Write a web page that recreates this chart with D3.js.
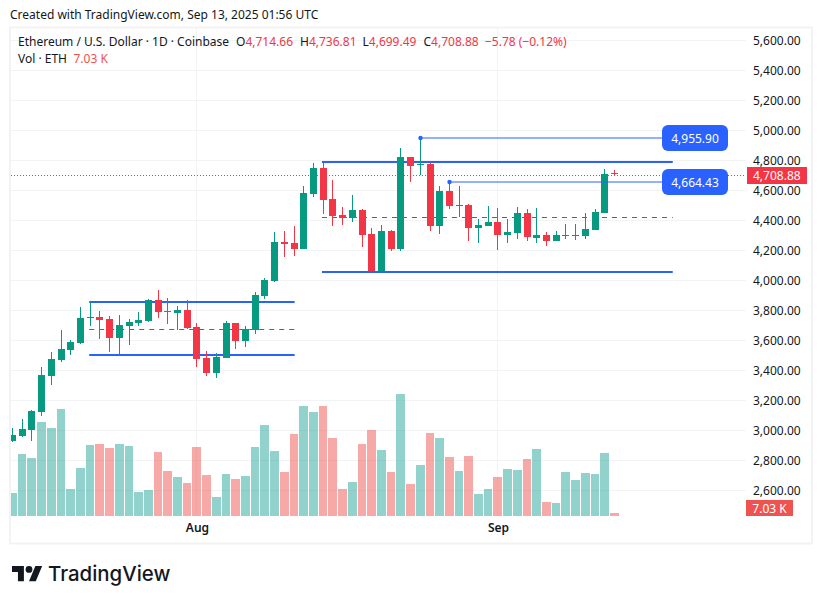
<!DOCTYPE html>
<html><head><meta charset="utf-8">
<script src="https://cdn.jsdelivr.net/npm/d3@7"></script>
<style>html,body{margin:0;padding:0;background:#fff}svg{display:block;font-family:"Noto Sans",sans-serif}</style>
</head><body><div id="chart"></div>
<script>
const openP =[2930,2963,3003,3123,3363,3470,3537,3583,3750,3757,3743,3617,3697,3717,3730,3870,3797,3783,3803,3690,3483,3383,3483,3717,3597,3670,3897,3997,4257,4250,4210,4577,4750,4543,4437,4417,4470,4310,4063,4330,4210,4823,4770,4777,4363,4597,4497,4503,4350,4363,4390,4303,4317,4450,4283,4303,4263,4297,4297,4297,4337,4450,4714.66];
const highP =[3017,3077,3137,3423,3523,3670,3603,3823,3857,3797,3763,3770,3743,3790,3877,3937,3883,3830,3870,3717,3530,3517,3730,3717,3697,3923,4017,4323,4330,4363,4630,4783,4783,4670,4490,4570,4477,4350,4370,4337,4883,4823,4955.9,4783,4630,4664.43,4630,4510,4410,4497,4483,4410,4490,4477,4483,4323,4330,4377,4377,4450,4477,4743,4736.81];
const lowP  =[2925,2957,2930,3097,3303,3457,3503,3577,3697,3610,3523,3503,3570,3697,3723,3750,3710,3670,3677,3423,3363,3350,3483,3543,3557,3643,3877,3990,4157,4163,4210,4557,4443,4363,4370,4390,4223,4063,4057,4197,4197,4657,4703,4330,4310,4477,4423,4263,4250,4363,4203,4250,4277,4263,4250,4230,4263,4277,4270,4277,4337,4450,4699.49];
const closeP=[2970,3010,3130,3370,3477,3543,3590,3750,3757,3737,3617,3703,3723,3737,3870,3790,3790,3803,3683,3477,3383,3490,3717,3597,3677,3903,4003,4257,4243,4210,4583,4750,4537,4430,4417,4470,4303,4063,4330,4210,4823,4763,4777,4363,4597,4497,4503,4350,4370,4390,4303,4323,4450,4290,4303,4263,4303,4303,4303,4343,4457,4710,4708.88];
const volumeK=[54,145,136,220,206,250,63,112,166,168,159,168,164,56,61,150,105,91,77,161,96,44,98,87,94,161,213,152,103,192,257,243,257,183,63,80,168,201,154,103,285,75,119,194,183,138,105,140,51,63,91,110,108,133,157,33,30,103,84,101,98,147,7.03];
const priceTicks=[5600,5400,5200,5000,4800,4600,4400,4200,4000,3800,3600,3400,3200,3000,2800,2600];
const monthTicks=[19,50];
const monthLabels=["Aug","Sep"];
const channelA={from:7.9,to:29.06,top:3857,mid:3675,bottom:3505};
const channelB={from:31.87,to:68,top:4792,mid:4421,bottom:4059};
const annotations=[{from:42,to:67,price:4955.90},{from:45,to:67,price:4664.43}];

const GREEN="#089981",RED="#F23645",BLUE="#2962FF",GRID="#f2f3f5",INK="#131722";
const svg=d3.select("#chart").append("svg").attr("width",822).attr("height",604);
const x=d3.scaleLinear().domain([0,62]).range([12.5,614.5]);
const y=d3.scaleLinear().domain([5000,4000]).range([130.5,280.5]);
const v=d3.scaleLinear().domain([0,300]).range([516,387.8]);
const px=i=>Math.floor(x(i));
const fmt=d3.format(",.2f");

svg.append("defs").append("clipPath").attr("id","pane").append("rect").attr("x",11).attr("y",28).attr("width",735).attr("height",488);
// frame
svg.append("rect").attr("x",10).attr("y",27.5).attr("width",802).attr("height",516).attr("fill","none").attr("stroke","#f3f3f3").attr("stroke-width",2);
// grid
const grid=svg.append("g").attr("shape-rendering","crispEdges");
grid.selectAll("line.h").data(priceTicks).join("line").attr("class","h")
 .attr("x1",11).attr("x2",746).attr("y1",d=>Math.floor(y(d))+.5).attr("y2",d=>Math.floor(y(d))+.5).attr("stroke",GRID);
grid.selectAll("line.v").data(monthTicks).join("line").attr("class","v")
 .attr("x1",d=>px(d)+.5).attr("x2",d=>px(d)+.5).attr("y1",28).attr("y2",516).attr("stroke",GRID);

const plot=svg.append("g").attr("clip-path","url(#pane)");
// volume
const isUp=i=>closeP[i]>=openP[i];
plot.append("g").attr("shape-rendering","crispEdges").selectAll("rect").data(volumeK).join("rect")
 .attr("x",(d,i)=>px(i)-4).attr("width",(d,i)=>px(i+1)-px(i)-1)
 .attr("y",d=>Math.round(v(d))).attr("height",d=>516-Math.round(v(d)))
 .attr("fill",(d,i)=>isUp(i)?"rgba(38,166,154,.5)":"rgba(239,83,80,.5)");

// drawings under candles
function channel(c){
 const g=plot.append("g").attr("stroke",BLUE);
 const solid=p=>Math.round(y(p)), thin=p=>Math.floor(y(p))+.5;
 g.append("line").attr("x1",x(c.from)).attr("x2",x(c.to)).attr("y1",solid(c.top)).attr("y2",solid(c.top)).attr("stroke-width",2);
 g.append("line").attr("x1",x(c.from)).attr("x2",x(c.to)).attr("y1",solid(c.bottom)).attr("y2",solid(c.bottom)).attr("stroke-width",2);
 g.append("line").attr("x1",x(c.from)).attr("x2",x(c.to)).attr("y1",thin(c.mid)).attr("y2",thin(c.mid)).attr("stroke-width",1).attr("stroke-dasharray","5 5");
}
channel(channelA);channel(channelB);
// candles
const candles=plot.append("g").attr("shape-rendering","crispEdges");
candles.selectAll("rect.wick").data(volumeK).join("rect").attr("class","wick")
 .attr("x",(d,i)=>px(i)).attr("width",1)
 .attr("y",(d,i)=>y(highP[i])).attr("height",(d,i)=>y(lowP[i])-y(highP[i]))
 .attr("fill",(d,i)=>isUp(i)?GREEN:RED);
candles.selectAll("rect.body").data(volumeK).join("rect").attr("class","body")
 .attr("x",(d,i)=>px(i)-3).attr("width",7)
 .attr("y",(d,i)=>y(Math.max(openP[i],closeP[i])))
 .attr("height",(d,i)=>Math.max(1,Math.abs(y(openP[i])-y(closeP[i]))))
 .attr("fill",(d,i)=>isUp(i)?GREEN:RED);

// last price line
const last=closeP[closeP.length-1];
plot.append("line").attr("x1",11).attr("x2",746).attr("y1",Math.floor(y(last))+1.5).attr("y2",Math.floor(y(last))+1.5)
 .attr("stroke",RED).attr("stroke-dasharray","1 2");

// annotations
const note=svg.append("g");
annotations.forEach(a=>{
 const yy=Math.round(y(a.price)+.7);
 note.append("line").attr("x1",px(a.from)).attr("x2",x(a.to)).attr("y1",yy).attr("y2",yy).attr("stroke",BLUE).attr("stroke-opacity",.5).attr("stroke-width",2);
 note.append("circle").attr("cx",px(a.from)+.5).attr("cy",yy).attr("r",2.2).attr("fill",BLUE);
});
const labelMid=[138,182];
annotations.forEach((a,i)=>{
 const yy=labelMid[i];
 note.append("rect").attr("x",662).attr("y",yy-13).attr("width",66).attr("height",26).attr("rx",6).attr("fill",BLUE);
 note.append("text").attr("x",695).attr("y",yy+4.5).attr("text-anchor","middle").attr("fill","#fff").attr("font-size",12).text(fmt(a.price));
});

// price axis
const ax=svg.append("g").attr("transform","translate(753,0)").call(d3.axisRight(y).tickValues(priceTicks).tickFormat(fmt).tickSize(0).tickPadding(0));
ax.select(".domain").remove();
ax.selectAll("text").attr("font-size",12).attr("font-family",'"Noto Sans",sans-serif').attr("fill",INK);
// time axis
const tx=svg.append("g").attr("transform","translate(0,520)").call(d3.axisBottom(x).tickValues(monthTicks).tickFormat((d,i)=>monthLabels[i]).tickSize(0).tickPadding(3));
tx.select(".domain").remove();
tx.selectAll("text").attr("font-size",12).attr("font-weight",600).attr("font-family",'"Noto Sans",sans-serif').attr("fill",INK);

// last price labels
svg.append("rect").attr("x",747).attr("y",167).attr("width",60).attr("height",17).attr("fill",RED);
svg.append("text").attr("x",753).attr("y",179.5).attr("fill","#fff").attr("font-size",12).text(fmt(last));
svg.append("rect").attr("x",746).attr("y",500).attr("width",47).attr("height",16).attr("fill","#ef5350");
svg.append("text").attr("x",769.5).attr("y",512.5).attr("text-anchor","middle").attr("fill","#fff").attr("font-size",12).text("7.03 K");

// header
svg.append("text").attr("x",10).attr("y",19).attr("font-size",12).attr("fill",INK).text("Created with TradingView.com, Sep 13, 2025 01:56 UTC");
const legend=svg.append("g").attr("font-size",12).attr("fill",INK);
legend.append("text").attr("x",18).attr("y",46).text("Ethereum / U.S. Dollar · 1D · Coinbase");
[["O",236,openP[62]],["H",300,highP[62]],["L",362.5,lowP[62]],["C",423.5,closeP[62]]].forEach(([k,px0,val])=>{
 const t=legend.append("text").attr("x",px0).attr("y",46);
 t.append("tspan").text(k);
 t.append("tspan").attr("fill",RED).text(fmt(val));
});
legend.append("text").attr("x",485).attr("y",46).attr("fill",RED).text("−5.78 (−0.12%)");
legend.append("text").attr("x",18).attr("y",63).text("Vol · ETH");
legend.append("text").attr("x",73.5).attr("y",63).attr("fill","#ef5350").text("7.03 K");

// logo
const logo=svg.append("g").attr("transform","translate(12,562.6) scale(.85)").attr("fill",INK);
logo.append("path").attr("d","M14 22H7V11H0V4h14v18zM28 22h-8l7.5-18h8L28 22z");
logo.append("circle").attr("cx",20).attr("cy",8).attr("r",4);
svg.append("text").attr("x",48).attr("y",581).attr("font-size",20.4).attr("font-weight",500).attr("font-family","Inter,sans-serif").attr("fill",INK).text("TradingView");
</script></body></html>
